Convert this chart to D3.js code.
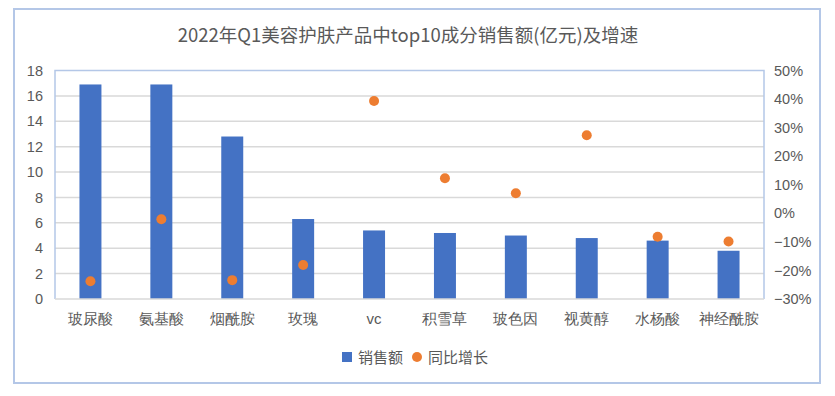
<!DOCTYPE html>
<html>
<head>
<meta charset="utf-8">
<script src="https://cdn.jsdelivr.net/npm/d3@7"></script>
<style>
  body { margin: 0; background: #fff; }
  svg { font-family: "Noto Sans CJK SC", "Noto Sans", sans-serif; }
  .tick text { fill: #595959; font-size: 14.5px; }
  .xaxis .tick text { font-size: 15px; }
</style>
</head>
<body>
<svg id="chart"></svg>
<script>
// chart data
var categories = ["玻尿酸", "氨基酸", "烟酰胺", "玫瑰", "vc", "积雪草", "玻色因", "视黄醇", "水杨酸", "神经酰胺"]
var sales = [16.9, 16.9, 12.8, 6.3, 5.4, 5.2, 5.0, 4.8, 4.6, 3.8]
var growth = [-0.238, -0.021, -0.234, -0.181, 0.393, 0.123, 0.070, 0.273, -0.082, -0.099]
var leftTicks = [0, 2, 4, 6, 8, 10, 12, 14, 16, 18]
var rightTicks = [-0.3, -0.2, -0.1, 0, 0.1, 0.2, 0.3, 0.4, 0.5]

var screen = {width: 835, height: 396}
var margins = {top: 70.5, bottom: 97, left: 55, right: 71}
var graph = {
    width: screen.width - margins.left - margins.right,
    height: screen.height - margins.top - margins.bottom
}

var svg = d3.select("#chart")
    .attr("width", screen.width)
    .attr("height", screen.height)

// outer frame
svg.append("rect")
    .attr("x", 14).attr("y", 9)
    .attr("width", 806).attr("height", 374)
    .attr("fill", "none")
    .attr("stroke", "#b4c7e7")
    .attr("stroke-width", 2)

svg.append("text")
    .text("2022年Q1美容护肤产品中top10成分销售额(亿元)及增速")
    .attr("x", 408)
    .attr("y", 42)
    .attr("text-anchor", "middle")
    .attr("fill", "#595959")
    .attr("font-size", 18.5)

var xScale = d3.scaleBand()
    .domain(categories)
    .range([0, graph.width])
    .paddingInner(0.69)
    .paddingOuter(0.345)

var yScale = d3.scaleLinear()
    .domain([0, 18])
    .range([graph.height, 0])

var y2Scale = d3.scaleLinear()
    .domain([-0.3, 0.5])
    .range([graph.height, 0])

var g = svg.append("g")
    .classed("graph", true)
    .attr("transform", "translate(" + margins.left + "," + margins.top + ")")

// gridlines
g.append("g")
    .selectAll("line")
    .data(leftTicks.slice(1, -1))
    .enter()
    .append("line")
    .attr("x1", 0).attr("x2", graph.width)
    .attr("y1", function(d) { return yScale(d) })
    .attr("y2", function(d) { return yScale(d) })
    .attr("stroke", "#d9d9d9")
    .attr("stroke-width", 1.5)

// plot area border (top, left, right)
g.append("path")
    .attr("d", "M0," + graph.height + "V0H" + graph.width + "V" + graph.height)
    .attr("fill", "none")
    .attr("stroke", "#b4c7e7")
    .attr("stroke-width", 1.5)

// bars
g.selectAll(".bar")
    .data(sales)
    .enter()
    .append("rect")
    .classed("bar", true)
    .attr("x", function(d, i) { return xScale(categories[i]) })
    .attr("y", function(d) { return yScale(d) })
    .attr("width", xScale.bandwidth())
    .attr("height", function(d) { return graph.height - yScale(d) })
    .attr("fill", "#4472c4")

// baseline
g.append("line")
    .attr("x1", 0).attr("x2", graph.width)
    .attr("y1", graph.height).attr("y2", graph.height)
    .attr("stroke", "#d9d9d9")
    .attr("stroke-width", 1.5)

// dots
g.selectAll(".dot")
    .data(growth)
    .enter()
    .append("circle")
    .classed("dot", true)
    .attr("cx", function(d, i) { return xScale(categories[i]) + xScale.bandwidth() / 2 })
    .attr("cy", function(d) { return y2Scale(d) })
    .attr("r", 5)
    .attr("fill", "#ed7d31")

// axes
var xAxis = d3.axisBottom(xScale).tickSize(0).tickPadding(14)
var yAxis = d3.axisLeft(yScale).tickValues(leftTicks).tickSize(0).tickPadding(12)
var y2Axis = d3.axisRight(y2Scale).tickValues(rightTicks).tickSize(0).tickPadding(10)
    .tickFormat(d3.format(".0%"))

g.append("g")
    .classed("xaxis", true)
    .attr("transform", "translate(0," + graph.height + ")")
    .call(xAxis)
    .call(function(a) { a.select(".domain").remove() })

g.append("g")
    .call(yAxis)
    .call(function(a) { a.select(".domain").remove() })

g.append("g")
    .attr("transform", "translate(" + graph.width + ",0)")
    .call(y2Axis)
    .call(function(a) { a.select(".domain").remove() })

// legend
var legend = svg.append("g")
    .attr("font-size", 15)
    .attr("fill", "#595959")
legend.append("rect")
    .attr("x", 342).attr("y", 352)
    .attr("width", 10).attr("height", 10)
    .attr("fill", "#4472c4")
legend.append("text")
    .text("销售额")
    .attr("x", 358).attr("y", 362.5)
legend.append("circle")
    .attr("cx", 417).attr("cy", 357)
    .attr("r", 5)
    .attr("fill", "#ed7d31")
legend.append("text")
    .text("同比增长")
    .attr("x", 428).attr("y", 362.5)
</script>
</body>
</html>
